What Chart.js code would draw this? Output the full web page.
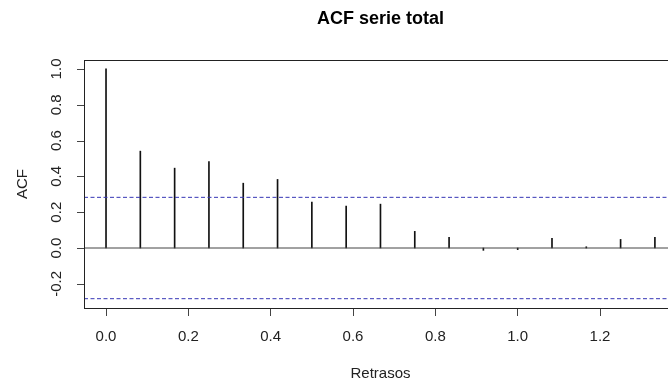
<!DOCTYPE html>
<html>
<head>
<meta charset="utf-8">
<script src="https://cdn.jsdelivr.net/npm/chart.js@4"></script>
<style>
  html, body { margin: 0; padding: 0; background: #fff; overflow: hidden; }
  #wrap { width: 680px; height: 383px; }
</style>
</head>
<body>
<div id="wrap"><canvas id="acfChart" width="680" height="383"></canvas></div>
<script>
// retrasos (lag / 12) y valores de la ACF
var lags = [0, 1/12, 2/12, 3/12, 4/12, 5/12, 6/12, 7/12, 8/12, 9/12, 10/12, 11/12, 1, 13/12, 14/12, 15/12, 16/12];
var acfValues = [1.0, 0.541, 0.446, 0.483, 0.362, 0.383, 0.257, 0.234, 0.245, 0.093, 0.059, -0.013, -0.009, 0.054, 0.007, 0.048, 0.059];
var ciLimit = 0.283;
var xTicks = [0, 0.2, 0.4, 0.6, 0.8, 1.0, 1.2];
var yTicks = [-0.2, 0, 0.2, 0.4, 0.6, 0.8, 1.0];
var xRange = [-0.0535, 1.387];
var yRange = [-0.335, 1.05];

var font = "'Liberation Sans', Arial, sans-serif";

function _each(arr, fn) { for (var i = 0; i < arr.length; i++) fn(arr[i], i); }

var rPlot = {
	id: 'rPlot',
	afterDraw: function(chart) {
		var ctx = chart.ctx;
		var a = chart.chartArea;
		var y = chart.scales.y;
		ctx.save();
		// caja
		ctx.strokeStyle = '#222';
		ctx.lineWidth = 1;
		ctx.strokeRect(Math.round(a.left) + 0.5, Math.round(a.top) + 0.5, a.right - a.left, a.bottom - a.top);
		// marcas y etiquetas del eje y, giradas como en R
		ctx.strokeStyle = '#444';
		ctx.fillStyle = '#222';
		ctx.font = '15px ' + font;
		ctx.textAlign = 'center';
		ctx.textBaseline = 'middle';
		_each(yTicks, function(v) {
			var py = Math.round(y.getPixelForValue(v)) + 0.5;
			ctx.beginPath();
			ctx.moveTo(Math.round(a.left) - 7, py);
			ctx.lineTo(Math.round(a.left), py);
			ctx.stroke();
			ctx.save();
			ctx.translate(57, y.getPixelForValue(v));
			ctx.rotate(-Math.PI / 2);
			ctx.fillText(v.toFixed(1), 0, 0);
			ctx.restore();
		});
		// titulo
		ctx.font = 'bold 18px ' + font;
		ctx.fillStyle = '#000';
		ctx.fillText('ACF serie total', (a.left + a.right) / 2, 19);
		ctx.restore();
	}
};

var spikes = lags.map(function(l, i) { return {x: l, y: acfValues[i]}; });
function hline(v) { return [{x: xRange[0], y: v}, {x: xRange[1], y: v}]; }

var ctx = document.getElementById('acfChart');
var acfChart = new Chart(ctx, {
	type: 'bar',
	data: {
		datasets: [
			{
				type: 'line',
				data: hline(ciLimit),
				borderColor: '#3535b5',
				borderWidth: 1,
				borderDash: [4, 2.5],
				pointRadius: 0,
				fill: false
			},
			{
				type: 'line',
				data: hline(-ciLimit),
				borderColor: '#3535b5',
				borderWidth: 1,
				borderDash: [4, 2.5],
				pointRadius: 0,
				fill: false
			},
			{
				type: 'line',
				data: hline(0),
				borderColor: '#444',
				borderWidth: 1,
				pointRadius: 0,
				fill: false
			},
			{
				type: 'bar',
				data: spikes,
				backgroundColor: '#111',
				barThickness: 1,
				borderWidth: 0
			}
		]
	},
	options: {
		responsive: false,
		animation: false,
		events: [],
		layout: { padding: { top: 60, right: 3, left: 0, bottom: 0 } },
		plugins: {
			legend: { display: false },
			tooltip: { enabled: false },
			title: { display: false }
		},
		scales: {
			x: {
				type: 'linear',
				offset: false,
				min: xRange[0],
				max: xRange[1],
				afterBuildTicks: function(s) { s.ticks = xTicks.map(function(v) { return {value: v}; }); },
				afterFit: function(s) { s.height = 75; },
				grid: { offset: false, drawOnChartArea: false, drawTicks: true, tickLength: 8, color: '#444' },
				border: { display: false },
				ticks: {
					color: '#222',
					font: { family: font, size: 15 },
					padding: 12,
					maxRotation: 0,
					callback: function(v) { return v.toFixed(1); }
				},
				title: {
					display: true,
					text: 'Retrasos',
					color: '#222',
					font: { family: font, size: 15 },
					padding: { top: 0, bottom: 0 }
				}
			},
			y: {
				type: 'linear',
				min: yRange[0],
				max: yRange[1],
				afterBuildTicks: function(s) { s.ticks = yTicks.map(function(v) { return {value: v}; }); },
				afterFit: function(s) { s.width = 84; },
				grid: { display: false },
				border: { display: false },
				ticks: { display: false },
				title: {
					display: true,
					text: 'ACF',
					color: '#222',
					font: { family: font, size: 15 },
					padding: { top: 14, bottom: 0 }
				}
			}
		}
	},
	plugins: [rPlot]
});
</script>
</body>
</html>
